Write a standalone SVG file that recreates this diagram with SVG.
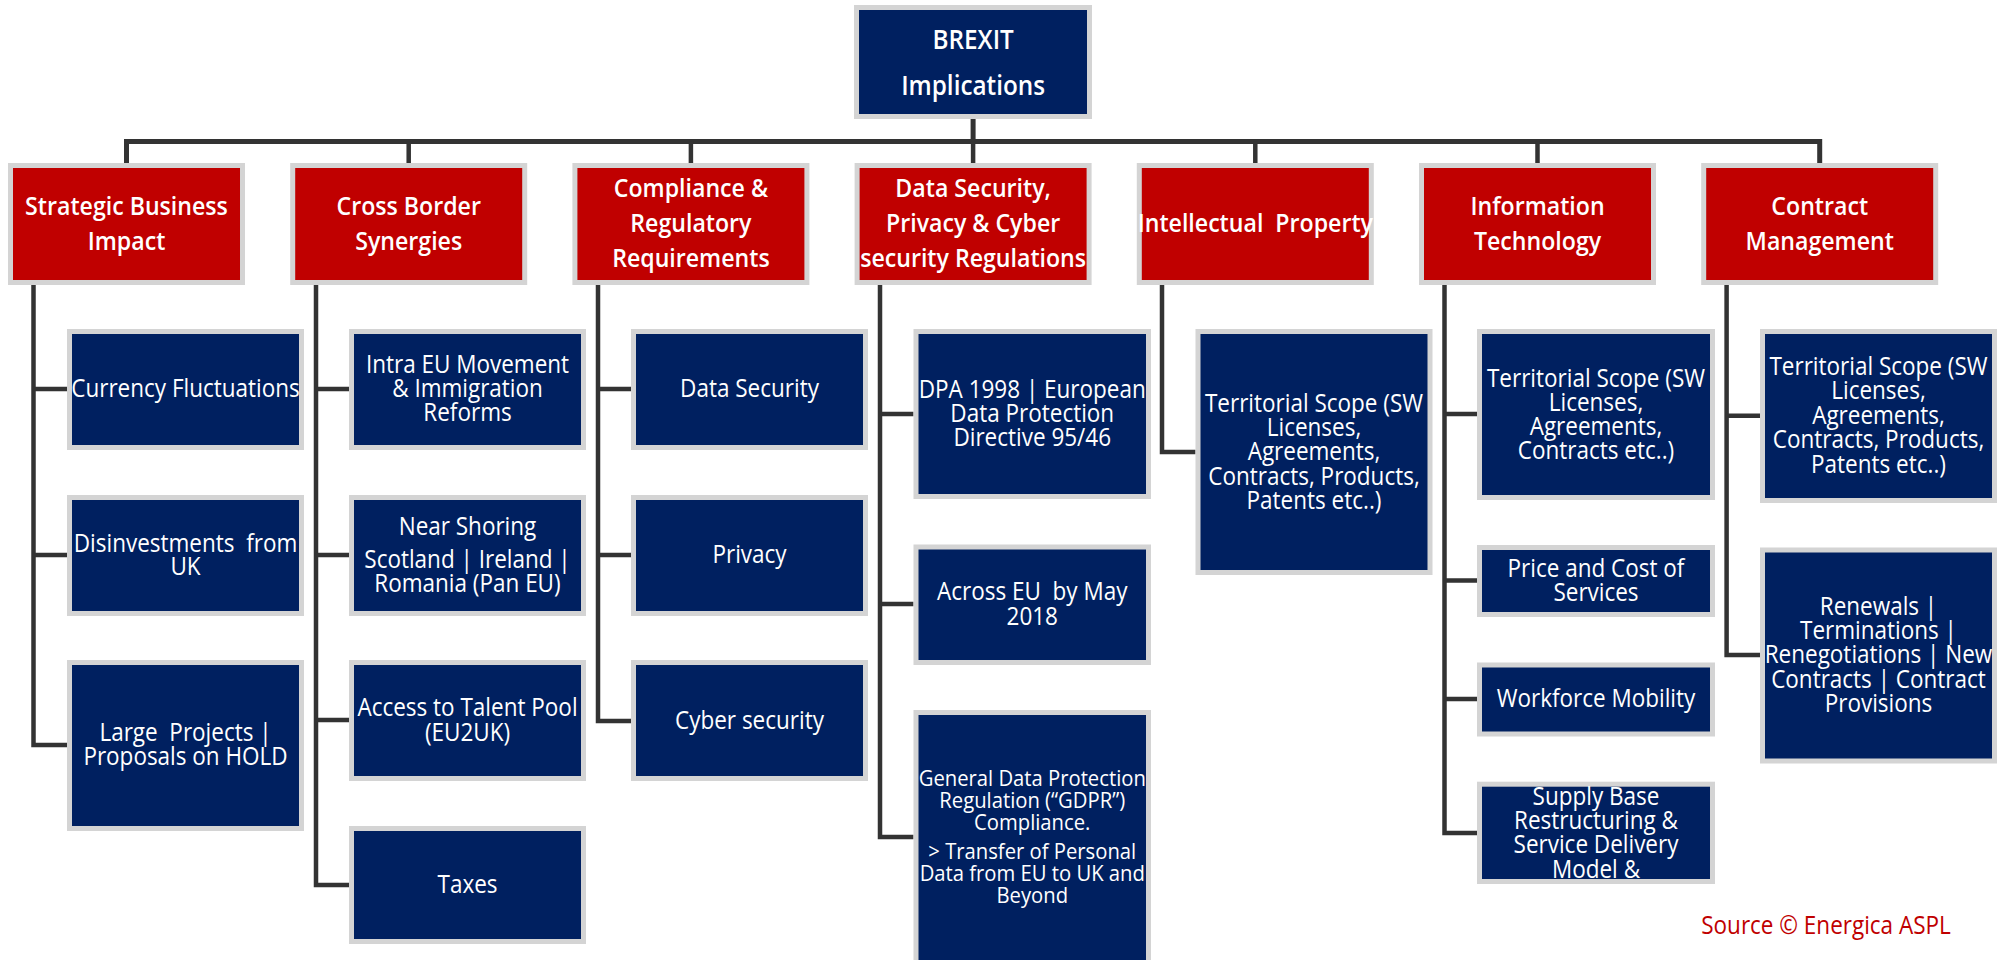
<svg xmlns="http://www.w3.org/2000/svg" width="2010" height="960" viewBox="0 0 2010 960">
<style>
.node rect{stroke:#d4d4d4;stroke-width:5}
.navy rect{fill:#002060}
.red rect{fill:#c00000}
text{font-family:"Open Sans","Noto Sans","DejaVu Sans",sans-serif;fill:#ffffff;text-anchor:middle;white-space:pre}
.t-top{font-size:27px;font-weight:600}
.t-hdr{font-size:26px;font-weight:600}
.t-item{font-size:25px}
.t-small{font-size:22.5px}
.src{font-size:25px;fill:#c00000}
#connectors path{fill:none;stroke:#333333;stroke-width:4.5;stroke-linejoin:miter;stroke-linecap:butt}
#connectors .bar{stroke-width:5}
</style>
<rect x="0" y="0" width="2010" height="960" fill="#ffffff"/>
<g id="connectors">
<path class="bar" d="M973.1,119 V141.5"/>
<path class="bar" d="M126.5,163 V141.5 H1819.7 V163"/>
<path d="M408.7,141.5 V163 M690.9,141.5 V163 M973.1,141.5 V163 M1255.3,141.5 V163 M1537.5,141.5 V163"/>
<path d="M33.5,285 V745 H67 M33.5,389 H67 M33.5,555 H67"/>
<path d="M316,285 V885 H349 M316,389 H349 M316,555 H349 M316,720 H349"/>
<path d="M598,285 V721 H631 M598,389 H631 M598,555 H631"/>
<path d="M880,285 V837 H913.5 M880,414 H913.5 M880,604 H913.5"/>
<path d="M1162,285 V452 H1195.5"/>
<path d="M1444.5,285 V833 H1477 M1444.5,414 H1477 M1444.5,580.5 H1477 M1444.5,699 H1477"/>
<path d="M1726.6,285 V655 H1760 M1726.6,415.7 H1760"/>
</g>

<g id="root" class="node navy">
<rect x="856.5" y="7.5" width="233" height="109"/>
<text class="t-top" transform="translate(973.1 -1) scale(0.9 1)"><tspan x="0" y="50">BREXIT</tspan><tspan x="0" y="96">Implications</tspan></text>
</g>

<g id="h-strategic" class="node red">
<rect x="10.5" y="165.5" width="232" height="117"/>
<text class="t-hdr" transform="translate(126.5 0) scale(0.89 1)"><tspan x="0" y="215">Strategic Business</tspan><tspan x="0" y="250">Impact</tspan></text>
</g>
<g id="h-crossborder" class="node red">
<rect x="292.7" y="165.5" width="232" height="117"/>
<text class="t-hdr" transform="translate(408.7 0) scale(0.89 1)"><tspan x="0" y="215">Cross Border</tspan><tspan x="0" y="250">Synergies</tspan></text>
</g>
<g id="h-compliance" class="node red">
<rect x="574.9" y="165.5" width="232" height="117"/>
<text class="t-hdr" transform="translate(690.9 0) scale(0.89 1)"><tspan x="0" y="197">Compliance &amp;</tspan><tspan x="0" y="232">Regulatory</tspan><tspan x="0" y="267">Requirements</tspan></text>
</g>
<g id="h-datasecurity" class="node red">
<rect x="857.1" y="165.5" width="232" height="117"/>
<text class="t-hdr" transform="translate(973.1 0) scale(0.89 1)"><tspan x="0" y="197">Data Security,</tspan><tspan x="0" y="232">Privacy &amp; Cyber</tspan><tspan x="0" y="267">security Regulations</tspan></text>
</g>
<g id="h-ip" class="node red">
<rect x="1139.3" y="165.5" width="232" height="117"/>
<text class="t-hdr" transform="translate(1255.3 0) scale(0.89 1)"><tspan x="0" y="232">Intellectual  Property</tspan></text>
</g>
<g id="h-it" class="node red">
<rect x="1421.5" y="165.5" width="232" height="117"/>
<text class="t-hdr" transform="translate(1537.5 0) scale(0.89 1)"><tspan x="0" y="215">Information</tspan><tspan x="0" y="250">Technology</tspan></text>
</g>
<g id="h-contract" class="node red">
<rect x="1703.7" y="165.5" width="232" height="117"/>
<text class="t-hdr" transform="translate(1819.7 0) scale(0.89 1)"><tspan x="0" y="215">Contract</tspan><tspan x="0" y="250">Management</tspan></text>
</g>

<g id="c1-currency" class="node navy">
<rect x="69.5" y="331.5" width="232" height="116"/>
<text class="t-item" transform="translate(185.5 1.5) scale(0.9 1)"><tspan x="0" y="396">Currency Fluctuations</tspan></text>
</g>
<g id="c1-disinvest" class="node navy">
<rect x="69.5" y="497.5" width="232" height="116"/>
<text class="t-item" transform="translate(185.5 1.5) scale(0.9 1)"><tspan x="0" y="551">Disinvestments  from</tspan><tspan x="0" y="574">UK</tspan></text>
</g>
<g id="c1-projects" class="node navy">
<rect x="69.5" y="662.5" width="232" height="166"/>
<text class="t-item" transform="translate(185.5 1.5) scale(0.9 1)"><tspan x="0" y="740">Large  Projects |</tspan><tspan x="0" y="764">Proposals on HOLD</tspan></text>
</g>

<g id="c2-intraeu" class="node navy">
<rect x="351.5" y="331.5" width="232" height="116"/>
<text class="t-item" transform="translate(467.5 1.5) scale(0.9 1)"><tspan x="0" y="372">Intra EU Movement</tspan><tspan x="0" y="396">&amp; Immigration</tspan><tspan x="0" y="420">Reforms</tspan></text>
</g>
<g id="c2-nearshoring" class="node navy">
<rect x="351.5" y="497.5" width="232" height="116"/>
<text class="t-item" transform="translate(467.5 1.5) scale(0.9 1)"><tspan x="0" y="534">Near Shoring</tspan><tspan x="0" y="567">Scotland | Ireland |</tspan><tspan x="0" y="591">Romania (Pan EU)</tspan></text>
</g>
<g id="c2-talent" class="node navy">
<rect x="351.5" y="662.5" width="232" height="116"/>
<text class="t-item" transform="translate(467.5 1.5) scale(0.9 1)"><tspan x="0" y="715">Access to Talent Pool</tspan><tspan x="0" y="740">(EU2UK)</tspan></text>
</g>
<g id="c2-taxes" class="node navy">
<rect x="351.5" y="828.5" width="232" height="113"/>
<text class="t-item" transform="translate(467.5 1.5) scale(0.9 1)"><tspan x="0" y="892">Taxes</tspan></text>
</g>

<g id="c3-datasecurity" class="node navy">
<rect x="633.5" y="331.5" width="232" height="116"/>
<text class="t-item" transform="translate(749.5 1.5) scale(0.9 1)"><tspan x="0" y="396">Data Security</tspan></text>
</g>
<g id="c3-privacy" class="node navy">
<rect x="633.5" y="497.5" width="232" height="116"/>
<text class="t-item" transform="translate(749.5 1.5) scale(0.9 1)"><tspan x="0" y="562">Privacy</tspan></text>
</g>
<g id="c3-cyber" class="node navy">
<rect x="633.5" y="662.5" width="232" height="116"/>
<text class="t-item" transform="translate(749.5 1.5) scale(0.9 1)"><tspan x="0" y="728">Cyber security</tspan></text>
</g>

<g id="c4-dpa" class="node navy">
<rect x="916" y="331.5" width="232.5" height="165"/>
<text class="t-item" transform="translate(1032.25 1.5) scale(0.9 1)"><tspan x="0" y="397">DPA 1998 | European</tspan><tspan x="0" y="421">Data Protection</tspan><tspan x="0" y="445">Directive 95/46</tspan></text>
</g>
<g id="c4-acrosseu" class="node navy">
<rect x="916" y="547" width="232.5" height="115.5"/>
<text class="t-item" transform="translate(1032.25 1.5) scale(0.9 1)"><tspan x="0" y="599">Across EU  by May</tspan><tspan x="0" y="624">2018</tspan></text>
</g>
<g id="c4-gdpr" class="node navy">
<rect x="916" y="712.5" width="232.5" height="270"/>
<text class="t-small" transform="translate(1032.25 1.5) scale(0.9 1)"><tspan x="0" y="785">General Data Protection</tspan><tspan x="0" y="807">Regulation (“GDPR”)</tspan><tspan x="0" y="829">Compliance.</tspan><tspan x="0" y="858">&gt; Transfer of Personal</tspan><tspan x="0" y="880">Data from EU to UK and</tspan><tspan x="0" y="902">Beyond</tspan></text>
</g>

<g id="c5-territorial" class="node navy">
<rect x="1198" y="331.5" width="232" height="241"/>
<text class="t-item" transform="translate(1314 1.5) scale(0.9 1)"><tspan x="0" y="411">Territorial Scope (SW</tspan><tspan x="0" y="435">Licenses,</tspan><tspan x="0" y="459">Agreements,</tspan><tspan x="0" y="484">Contracts, Products,</tspan><tspan x="0" y="508">Patents etc..)</tspan></text>
</g>

<g id="c6-territorial" class="node navy">
<rect x="1479.5" y="331.5" width="233" height="166"/>
<text class="t-item" transform="translate(1596 1.5) scale(0.9 1)"><tspan x="0" y="386">Territorial Scope (SW</tspan><tspan x="0" y="410">Licenses,</tspan><tspan x="0" y="434">Agreements,</tspan><tspan x="0" y="458">Contracts etc..)</tspan></text>
</g>
<g id="c6-price" class="node navy">
<rect x="1479.5" y="547.5" width="233" height="67"/>
<text class="t-item" transform="translate(1596 1.5) scale(0.9 1)"><tspan x="0" y="576">Price and Cost of</tspan><tspan x="0" y="600">Services</tspan></text>
</g>
<g id="c6-workforce" class="node navy">
<rect x="1479.5" y="665" width="233" height="69"/>
<text class="t-item" transform="translate(1596 1.5) scale(0.9 1)"><tspan x="0" y="706">Workforce Mobility</tspan></text>
</g>
<g id="c6-supply" class="node navy">
<rect x="1479.5" y="784.2" width="233" height="97.3"/>
<text class="t-item" transform="translate(1596 1.5) scale(0.9 1)"><tspan x="0" y="804">Supply Base</tspan><tspan x="0" y="828">Restructuring &amp;</tspan><tspan x="0" y="852">Service Delivery</tspan><tspan x="0" y="877">Model &amp;</tspan></text>
</g>

<g id="c7-territorial" class="node navy">
<rect x="1762.5" y="331.5" width="232" height="169"/>
<text class="t-item" transform="translate(1878.5 1.5) scale(0.9 1)"><tspan x="0" y="374">Territorial Scope (SW</tspan><tspan x="0" y="398">Licenses,</tspan><tspan x="0" y="423">Agreements,</tspan><tspan x="0" y="447">Contracts, Products,</tspan><tspan x="0" y="472">Patents etc..)</tspan></text>
</g>
<g id="c7-renewals" class="node navy">
<rect x="1762.5" y="550" width="232" height="211"/>
<text class="t-item" transform="translate(1878.5 1.5) scale(0.9 1)"><tspan x="0" y="614">Renewals |</tspan><tspan x="0" y="638">Terminations |</tspan><tspan x="0" y="662">Renegotiations | New</tspan><tspan x="0" y="687">Contracts | Contract</tspan><tspan x="0" y="711">Provisions</tspan></text>
</g>

<text class="src" transform="translate(1826 0) scale(0.9 1)"><tspan x="0" y="934">Source © Energica ASPL</tspan></text>
</svg>
